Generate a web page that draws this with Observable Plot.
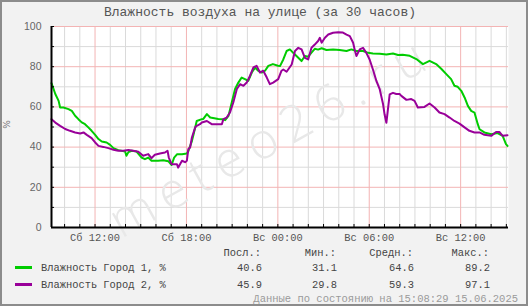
<!DOCTYPE html>
<html><head><meta charset="utf-8">
<script src="https://cdn.jsdelivr.net/npm/d3@7"></script>
<script src="https://cdn.jsdelivr.net/npm/@observablehq/plot@0.6"></script>
<style>
body{margin:0;}
#chart{position:relative;width:528px;height:306px;background:#f2f2f2;overflow:hidden;font-family:"Courier New","Liberation Mono",monospace;}
#chart svg{position:absolute;left:0;top:0;}
#frame{position:absolute;left:0;top:0;width:528px;height:306px;box-sizing:border-box;border:2px solid #8c8c8c;pointer-events:none;}
.t{position:absolute;white-space:pre;line-height:1;}
</style></head><body>
<div id="chart"></div>
<script>
// ---- data ----
const title = "Влажность воздуха на улице (за 30 часов)";
const yLabel = "%";
const seriesNames = ["Влажность Город 1, %", "Влажность Город 2, %"];
const seriesColors = ["#00cc00", "#990099"];
const statHeaders = ["Посл.:", "Мин.:", "Средн.:", "Макс.:"];
const stats1 = ["40.6", "31.1", "64.6", "89.2"];
const stats2 = ["45.9", "29.8", "59.3", "97.1"];
const footer = "Данные по состоянию на 15:08:29 15.06.2025";
const watermark = "meteo26.ru";
const startTime = "2025-06-14T09:08:29Z";
const endTime = "2025-06-15T15:08:29Z";
const xTickTimes = ["2025-06-14T12:00:00Z","2025-06-14T18:00:00Z","2025-06-15T00:00:00Z","2025-06-15T06:00:00Z","2025-06-15T12:00:00Z"];
const xTickLabels = ["Сб 12:00","Сб 18:00","Вс 00:00","Вс 06:00","Вс 12:00"];
const yTickLabels = [0, 20, 40, 60, 80, 100];

// minutes since window start, humidity %
const city1Minutes = [0,15,28,34,47,67,80,93,106,119,132,145,158,172,185,198,217,231,244,263,290,295,303,316,335,355,368,381,394,420,440,460,473,483,495,514,533,539,553,559,572,592,598,612,625,636,657,672,684,697,710,723,736,749,762,775,789,802,814,828,841,854,872,892,900,913,926,939,952,965,985,998,1011,1024,1037,1050,1064,1083,1109,1135,1162,1181,1201,1227,1247,1266,1293,1319,1345,1365,1383,1411,1437,1463,1489,1515,1535,1555,1574,1587,1600,1614,1627,1640,1653,1666,1679,1686,1705,1732,1757,1777,1790,1796];
const city1Values = [71.8,66.4,63,59.7,59.7,58.9,58,55.6,53.9,52.3,51.4,49.8,48.1,46.1,44,42.8,42.3,41.1,39.5,38.5,37.8,35.7,37.5,38.2,37.8,34.8,34,34.8,33.2,33.2,33.5,33,31.1,34.8,36.5,36.5,36.8,38,43,46,53,53.9,54,56.4,54.7,54.5,54,53.9,53.4,55.5,62.2,68.9,72.1,74.6,73.8,73,77.1,79.6,78,77.1,78,80.4,81.3,80.5,80.3,83.6,87.8,88.6,86.9,85.3,82.8,85.3,85,87,88.9,88.5,89.2,88.3,88.6,88.3,87.8,88.6,87.8,87.8,86.9,86.6,86.4,86.1,86.6,85.8,86,85.4,83.8,81.3,82.9,81.3,79,76.3,73.8,70.5,70,68,64.7,60.5,58,57.2,51.4,48.9,47.3,46.4,47,45.6,41.5,40.6];
const city2Minutes = [0,15,34,54,73,93,113,126,139,158,172,185,204,224,244,263,283,303,322,342,361,381,394,407,427,447,457,462,473,494,499,514,526,533,539,546,553,566,572,585,592,612,631,657,671,677,690,703,716,730,743,756,769,782,795,808,821,834,848,860,873,893,906,913,926,946,959,972,985,998,1011,1024,1037,1050,1057,1064,1077,1090,1109,1129,1148,1162,1175,1188,1194,1201,1214,1227,1240,1253,1266,1280,1293,1306,1312,1319,1325,1332,1345,1358,1371,1378,1398,1417,1430,1443,1469,1489,1509,1528,1548,1568,1587,1607,1627,1646,1666,1686,1705,1732,1751,1764,1777,1796];
const city2Values = [53.9,52.2,50.6,49,48.1,47.3,46.8,47.3,46.1,44.5,42.3,40.6,40.1,39.5,38.7,38.2,38.2,38.5,38.2,37.7,35.7,36.5,34.5,36.2,36.8,37.3,38.2,34.8,31.5,31.5,29.8,33.2,32.5,33.2,39,39.8,44.8,49.8,50.6,51.4,52.2,53,51.4,51.4,51.4,53.9,54.7,57.2,62.2,68.9,71.3,70.5,72.1,75.5,79.6,80.4,77.1,78,74.6,71.3,72.1,73.8,78,78.6,77.5,81.1,87.8,89.4,88.6,84.4,83.6,89.4,91,92.8,94.4,91.9,94.4,96,96.9,97.1,97,96,95.2,91.9,88.6,85.3,88.6,89.4,86.9,83.6,78.6,72.8,68.7,61.3,56.2,52.1,58.7,66.2,67,66.4,66.4,65.5,63.5,63.9,63,59.7,60,61.7,59.7,57.2,56.4,54.7,53,51.7,49.8,48.1,47.3,47.3,46.1,45.6,47.5,47.5,45.6,45.9];

// ---- build ----
const start = new Date(startTime), end = new Date(endTime);
const toRows = (mins, vals) => mins.map((m, i) => ({t: new Date(+start + m * 60000), v: vals[i]}));
const city1 = toRows(city1Minutes, city1Values);
const city2 = toRows(city2Minutes, city2Values);
const hours = d3.utcHour.range(d3.utcHour.ceil(start), end);
const majorHours = hours.filter(d => d.getUTCHours() % 6 === 0);
const minorHours = hours.filter(d => d.getUTCHours() % 6 !== 0);
const tens = d3.range(0, 101, 10);
const pink = "#f3b4b4", gray = "#dadada";
const tickDates = xTickTimes.map(s => new Date(s));
const mono = "'Courier New','Liberation Mono',monospace";

const W = 528, H = 306, mL = 51, mR = 20, mT = 26, mB = 79;
const plot = Plot.plot({
  width: W, height: H, marginLeft: mL, marginRight: mR, marginTop: mT, marginBottom: mB,
  style: {background: "transparent", overflow: "visible"},
  x: {type: "utc", domain: [start, end], label: null},
  y: {domain: [0, 100], label: null},
  marks: [
    Plot.frame({fill: "white", stroke: "none"}),
    Plot.ruleX(minorHours, {x: d => d, stroke: gray}),
    Plot.ruleY(tens.filter(d => d % 20 !== 0), {y: d => d, stroke: gray}),
    Plot.ruleX(majorHours, {x: d => d, stroke: pink}),
    Plot.ruleY(tens.filter(d => d % 20 === 0), {y: d => d, stroke: pink}),
    Plot.text([watermark], {text: d => d, frameAnchor: "middle", rotate: -29, fontSize: 50, fill: "#e8e8e8", fontFamily: "Open Sans", fontWeight: 300, dx: -8, dy: 10}),
    Plot.line(city1, {x: "t", y: "v", stroke: seriesColors[0], strokeWidth: 2}),
    Plot.line(city2, {x: "t", y: "v", stroke: seriesColors[1], strokeWidth: 2}),
    Plot.ruleX(hours, {x: d => d, y1: 0, y2: 1.5, stroke: "black"}),
    Plot.ruleY(tens, {y: d => d, x1: start, x2: new Date(+start + 12 * 60000), stroke: "black"}),
    Plot.ruleY([0], {stroke: "black", strokeWidth: 2}),
    Plot.ruleX([start], {stroke: "black", strokeWidth: 2}),
    Plot.axisY({ticks: yTickLabels, label: null, tickSize: 0, tickPadding: 10, fontSize: 10.5, fontFamily: "'Liberation Sans',Arial,sans-serif", fill: "#666"}),
    Plot.axisX({ticks: tickDates, label: null, tickFormat: d => xTickLabels[tickDates.findIndex(t => +t === +d)], tickSize: 0, tickPadding: 6, fontSize: 10.4, fontFamily: mono, fill: "#555"})
  ]
});

const chart = document.getElementById("chart");
chart.appendChild(plot);
// widen the watermark's letter spacing
plot.querySelectorAll("text").forEach(el => { if (el.textContent === watermark) el.style.letterSpacing = "10px"; });

function addText(txt, opts) {
  const el = document.createElement("div");
  el.className = "t";
  el.textContent = txt;
  Object.assign(el.style, opts);
  chart.appendChild(el);
  return el;
}
// title
addText(title, {left: "0px", width: "520px", textAlign: "center", top: "6px", fontSize: "13px", color: "#555"});
// y label
addText(yLabel, {left: "3px", top: "120px", fontSize: "9px", color: "#777", fontFamily: "'DejaVu Sans',sans-serif", transform: "rotate(-90deg)"});
// legend
const colRight = [261, 336, 413, 489];
statHeaders.forEach((h, i) => addText(h, {right: (W - colRight[i]) + "px", top: "248px", fontSize: "10.4px", color: "#444"}));
[stats1, stats2].forEach((row, r) => {
  const top = 263 + r * 17;
  const sw = document.createElement("div");
  Object.assign(sw.style, {position: "absolute", left: "15px", width: "17px", height: "3px", top: (top + 3) + "px", background: seriesColors[r]});
  chart.appendChild(sw);
  addText(seriesNames[r], {left: "41px", top: top + "px", fontSize: "10.4px", color: "#444"});
  row.forEach((v, i) => addText(v, {right: (W - colRight[i] - 1) + "px", top: top + "px", fontSize: "10.4px", color: "#444"}));
});
addText(footer, {right: "10px", top: "294px", fontSize: "10.5px", color: "#9a9a9a"});
const frame = document.createElement("div");
frame.id = "frame";
chart.appendChild(frame);
</script></body></html>
